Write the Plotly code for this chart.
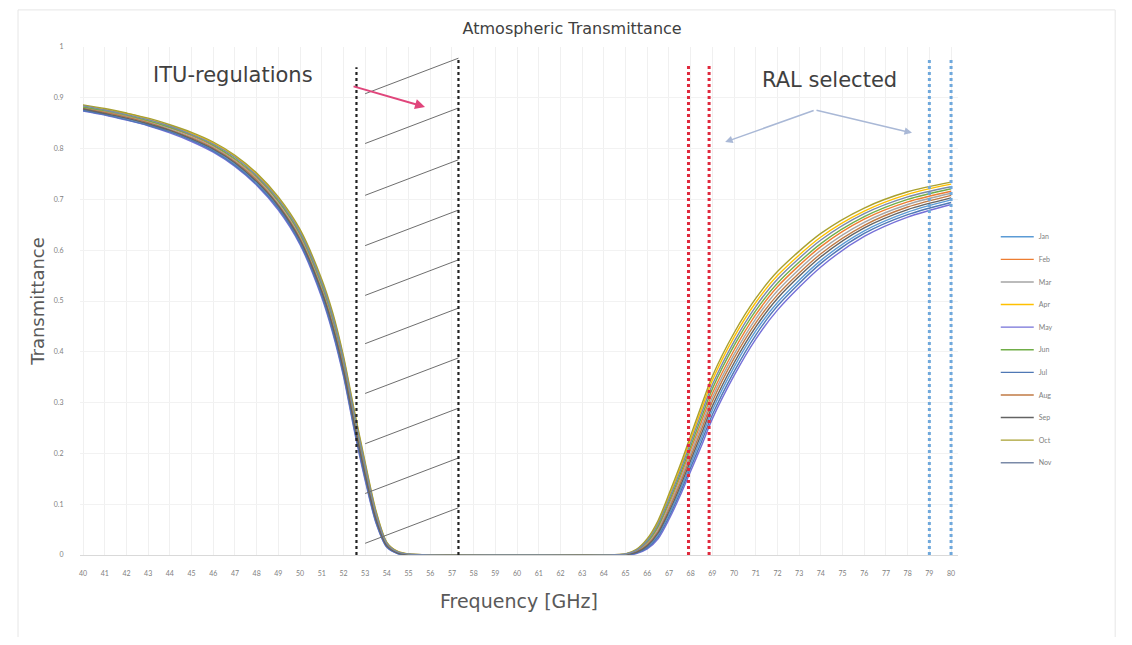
import plotly.graph_objects as go

freq = [40, 41, 42, 43, 44, 45, 46, 47, 48, 49, 50, 51, 51.5, 52, 52.5, 53, 53.5, 54, 54.5, 55, 56, 60, 64,
        65, 65.5, 66, 66.5, 67, 67.5, 68, 68.5, 69, 70, 71, 72, 74, 76, 78, 80]

series_names = ["Jan", "Feb", "Mar", "Apr", "May", "Jun", "Jul", "Aug", "Sep", "Oct", "Nov"]

s1 = [0.876, 0.868, 0.859, 0.848, 0.834, 0.818, 0.797, 0.769, 0.733, 0.684, 0.617, 0.514, 0.446, 0.360,
      0.253, 0.154, 0.068, 0.017, 0.004, 0.000, 0, 0, 0,
      0.000, 0.005, 0.016, 0.039, 0.080, 0.127, 0.179, 0.231, 0.285, 0.370, 0.441, 0.497, 0.580, 0.638, 0.675, 0.699]
s2 = [0.881, 0.873, 0.864, 0.854, 0.841, 0.825, 0.805, 0.778, 0.742, 0.695, 0.629, 0.529, 0.462, 0.376,
      0.269, 0.169, 0.077, 0.021, 0.005, 0.001, 0, 0, 0,
      0.001, 0.008, 0.024, 0.054, 0.100, 0.151, 0.207, 0.263, 0.318, 0.403, 0.473, 0.528, 0.607, 0.661, 0.695, 0.716]
s3 = [0.880, 0.872, 0.863, 0.852, 0.839, 0.823, 0.803, 0.776, 0.740, 0.692, 0.626, 0.525, 0.458, 0.372,
      0.265, 0.165, 0.075, 0.020, 0.005, 0.001, 0, 0, 0,
      0.001, 0.007, 0.022, 0.050, 0.095, 0.145, 0.200, 0.255, 0.310, 0.395, 0.465, 0.520, 0.600, 0.655, 0.690, 0.712]
s4 = [0.885, 0.877, 0.869, 0.858, 0.845, 0.830, 0.811, 0.785, 0.750, 0.702, 0.638, 0.539, 0.474, 0.388,
      0.281, 0.179, 0.085, 0.024, 0.007, 0.002, 0, 0, 0,
      0.002, 0.010, 0.030, 0.064, 0.115, 0.169, 0.228, 0.287, 0.344, 0.429, 0.497, 0.550, 0.626, 0.677, 0.710, 0.730]
s5 = [0.874, 0.866, 0.856, 0.845, 0.831, 0.814, 0.793, 0.765, 0.728, 0.679, 0.611, 0.507, 0.438, 0.352,
      0.245, 0.147, 0.063, 0.015, 0.003, 0.000, 0, 0, 0,
      0.000, 0.003, 0.012, 0.032, 0.070, 0.115, 0.165, 0.215, 0.268, 0.353, 0.425, 0.482, 0.567, 0.627, 0.665, 0.690]
s6 = [0.882, 0.875, 0.866, 0.855, 0.842, 0.827, 0.807, 0.780, 0.745, 0.697, 0.632, 0.532, 0.466, 0.380,
      0.273, 0.172, 0.080, 0.022, 0.006, 0.001, 0, 0, 0,
      0.001, 0.009, 0.026, 0.057, 0.105, 0.157, 0.214, 0.271, 0.327, 0.412, 0.481, 0.535, 0.613, 0.666, 0.700, 0.721]
s7 = [0.875, 0.867, 0.857, 0.846, 0.833, 0.816, 0.795, 0.767, 0.730, 0.682, 0.614, 0.511, 0.442, 0.356,
      0.249, 0.151, 0.065, 0.016, 0.003, 0.000, 0, 0, 0,
      0.000, 0.004, 0.014, 0.036, 0.075, 0.121, 0.172, 0.223, 0.276, 0.361, 0.433, 0.490, 0.574, 0.633, 0.670, 0.694]
s8 = [0.879, 0.871, 0.862, 0.851, 0.837, 0.821, 0.801, 0.774, 0.738, 0.689, 0.623, 0.521, 0.454, 0.368,
      0.261, 0.161, 0.073, 0.019, 0.005, 0.001, 0, 0, 0,
      0.001, 0.006, 0.020, 0.046, 0.090, 0.139, 0.193, 0.247, 0.302, 0.387, 0.457, 0.512, 0.593, 0.649, 0.685, 0.708]
s9 = [0.878, 0.869, 0.860, 0.849, 0.836, 0.819, 0.799, 0.772, 0.735, 0.687, 0.620, 0.518, 0.450, 0.364,
      0.257, 0.158, 0.070, 0.018, 0.004, 0.001, 0, 0, 0,
      0.001, 0.005, 0.018, 0.043, 0.085, 0.133, 0.186, 0.239, 0.293, 0.378, 0.449, 0.505, 0.587, 0.644, 0.680, 0.703]
s10 = [0.886, 0.879, 0.870, 0.860, 0.847, 0.832, 0.813, 0.787, 0.752, 0.705, 0.641, 0.543, 0.478, 0.392,
       0.285, 0.183, 0.087, 0.025, 0.007, 0.002, 0, 0, 0,
       0.002, 0.011, 0.032, 0.068, 0.120, 0.175, 0.235, 0.295, 0.352, 0.437, 0.505, 0.558, 0.633, 0.683, 0.715, 0.734]
s11 = [0.884, 0.876, 0.867, 0.857, 0.844, 0.828, 0.809, 0.783, 0.747, 0.700, 0.635, 0.536, 0.470, 0.384,
       0.277, 0.176, 0.082, 0.023, 0.006, 0.002, 0, 0, 0,
       0.002, 0.009, 0.028, 0.061, 0.110, 0.163, 0.221, 0.279, 0.335, 0.420, 0.489, 0.543, 0.620, 0.672, 0.705, 0.725]

series_values = [s1, s2, s3, s4, s5, s6, s7, s8, s9, s10, s11]
colors = ["#5B9BD5", "#ED7D31", "#A5A5A5", "#FFC000", "#7570D8", "#70AD47",
          "#4F78B5", "#C07A45", "#636363", "#A8A030", "#7A8AA8"]

x_ticks = list(range(40, 81))
y_ticks = [0, 0.1, 0.2, 0.3, 0.4, 0.5, 0.6, 0.7, 0.8, 0.9, 1.0]

# marker lines (GHz)
itu_lines = [52.6, 57.3]
ral_red = [67.9, 68.85]
ral_blue = [79.0, 80.0]
hatch_right_T = [0.978, 0.88, 0.778, 0.679, 0.581, 0.486, 0.388, 0.289, 0.191, 0.093]

FONT = "'DejaVu Sans', sans-serif"
SMALL = "Lato, 'Open Sans', sans-serif"

fig = go.Figure()
for i, (name, vals) in enumerate(zip(series_names, series_values)):
    fig.add_trace(go.Scatter(
        x=freq, y=vals, mode="lines", name=name, legendgroup=name,
        line=dict(color=colors[i], width=1.4, shape="spline", smoothing=0.8),
    ))

shapes = []
for t in hatch_right_T:
    shapes.append(dict(type="line", xref="x", yref="y", x0=itu_lines[0] + 0.4, y0=t - 0.07,
                       x1=itu_lines[1], y1=t, line=dict(color="#6E6E6E", width=1)))
shapes.append(dict(type="line", xref="x", yref="y", x0=itu_lines[0], x1=itu_lines[0], y0=0, y1=0.96,
                   line=dict(color="#222222", width=2.2, dash="dot")))
shapes.append(dict(type="line", xref="x", yref="y", x0=itu_lines[1], x1=itu_lines[1], y0=0, y1=0.98,
                   line=dict(color="#222222", width=2.2, dash="dot")))
for xv in ral_red:
    shapes.append(dict(type="line", xref="x", yref="y", x0=xv, x1=xv, y0=0, y1=0.965,
                       line=dict(color="#E0283C", width=3, dash="dot")))
for xv in ral_blue:
    shapes.append(dict(type="line", xref="x", yref="y", x0=xv, x1=xv, y0=0, y1=0.975,
                       line=dict(color="#6FA8DC", width=3, dash="dot")))
shapes.append(dict(type="rect", xref="paper", yref="paper", x0=-0.0706, x1=1.179, y0=-0.167, y1=1.073,
                   line=dict(color="#E6E6E6", width=1), layer="below"))

annotations = [
    dict(text="ITU-regulations", x=46.9, y=0.945, xref="x", yref="y", showarrow=False,
         font=dict(size=21, color="#404040", family=FONT)),
    dict(text="RAL selected", x=74.4, y=0.935, xref="x", yref="y", showarrow=False,
         font=dict(size=21, color="#404040", family=FONT)),
    dict(x=55.76, y=0.882, xref="x", yref="y", ax=-73, ay=-21, text="", showarrow=True,
         arrowhead=2, arrowsize=1, arrowwidth=2, arrowcolor="#E0457B"),
    dict(x=69.59, y=0.813, xref="x", yref="y", ax=90, ay=-32, text="", showarrow=True,
         arrowhead=2, arrowsize=1, arrowwidth=1.5, arrowcolor="#A9B8D6"),
    dict(x=78.2, y=0.831, xref="x", yref="y", ax=-97, ay=-23, text="", showarrow=True,
         arrowhead=2, arrowsize=1, arrowwidth=1.5, arrowcolor="#A9B8D6"),
]

fig.update_layout(
    width=1116, height=629,
    margin=dict(l=72, r=166, t=39, b=82),
    paper_bgcolor="white", plot_bgcolor="white",
    font=dict(family=FONT, color="#595959"),
    title=dict(text="Atmospheric Transmittance", x=0.5055, xanchor="center", y=0.968, yanchor="middle",
               font=dict(size=16, color="#404040", family=FONT)),
    xaxis=dict(range=[39.86, 80.32], tickmode="array", tickvals=x_ticks, ticktext=[str(v) for v in x_ticks],
               tickfont=dict(size=7, color="#808080", family=SMALL), showgrid=True, gridcolor="#F0F0F0",
               gridwidth=1, zeroline=False, showline=True, linecolor="#D9D9D9",
               ticks="outside", ticklen=12, tickcolor="rgba(0,0,0,0)",
               title=dict(text="Frequency [GHz]", font=dict(size=19, color="#595959"), standoff=18)),
    yaxis=dict(range=[0, 1], tickmode="array", tickvals=y_ticks, ticktext=[("%g" % v) for v in y_ticks],
               tickfont=dict(size=7, color="#808080", family=SMALL), showgrid=True, gridcolor="#F2F2F2",
               zeroline=False, showline=False,
               ticks="outside", ticklen=14, tickcolor="rgba(0,0,0,0)",
               title=dict(text="Transmittance", font=dict(size=18, color="#595959"), standoff=4)),
    legend=dict(x=1.043, xanchor="left", y=0.655, yanchor="top", font=dict(size=7, color="#808080", family=SMALL),
                tracegroupgap=3.6, bgcolor="rgba(0,0,0,0)", itemwidth=33),
    shapes=shapes,
    annotations=annotations,
    showlegend=True,
)

fig.write_html("out.html")
